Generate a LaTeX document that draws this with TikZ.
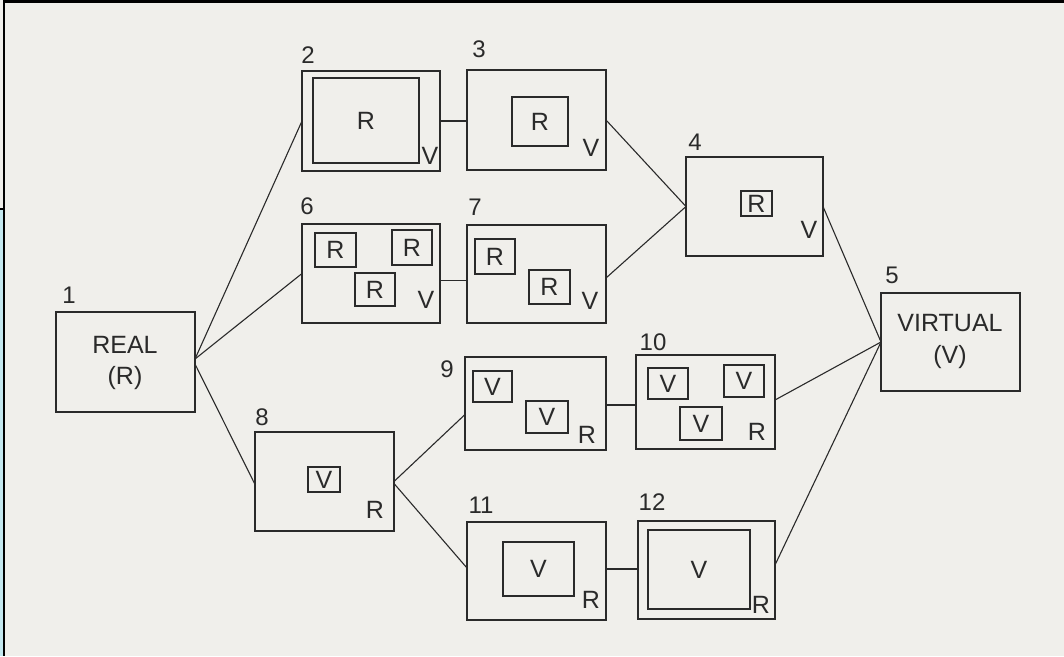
\documentclass[tikz,border=0pt]{standalone}
\usepackage{fontspec}
\setmainfont{Liberation Sans}
\definecolor{paper}{HTML}{F0EFEB}
\definecolor{ink}{HTML}{2A2A2A}
\definecolor{sideblue}{HTML}{C4E8EF}
\newcommand\pbox[6]{\node[#6, minimum width={#4-#2}, minimum height={#5-#3}] (#1) at ({(#2+#4)/2},{(#3+#5)/2}) {};}
\newcommand\ibox[7]{\node[#6, minimum width={#4-#2}, minimum height={#5-#3}] (#1) at ({(#2+#4)/2},{(#3+#5)/2}) {#7};}
\begin{document}
\begin{tikzpicture}[x=1pt,y=-1pt,
  frame/.style={draw=ink, line width=1.3pt, inner sep=0pt, outer sep=0pt},
  inner/.style={draw=ink, line width=1.1pt, inner sep=0pt, outer sep=0pt, font=\fontsize{25}{28}\selectfont, text=ink},
  txt/.style={inner sep=0pt, font=\fontsize{25}{28}\selectfont, text=ink},
  num/.style={inner sep=0pt, font=\fontsize{24}{27}\selectfont, text=ink},
  link/.style={draw=ink, line width=1.1pt}]
\useasboundingbox (0,0) rectangle (1064,656);
\fill[paper] (0,0) rectangle (1064,656);
\fill[sideblue] (0,209) rectangle (4,656);
\draw[black, line width=2pt] (0,209) -- (4,209);
\draw[black, line width=3pt] (4,1) -- (1064,1);
\draw[black, line width=2pt] (4,0) -- (4,656);

% box 1
\pbox{b1}{56}{312}{195}{412}{frame}
\node[num] (n1) at (69,295) {1};
\node[txt] (t1a) at (125,345) {REAL};
\node[txt] (t1b) at (125,378) {(R)};
% box 2
\pbox{b2}{302}{71}{440}{171}{frame}
\ibox{b2i}{313}{78}{419}{163}{inner}{R}
\node[txt] (c2) at (430,156) {V};
\node[num] (n2) at (308,55) {2};
% box 3
\pbox{b3}{467}{70}{606}{170}{frame}
\ibox{b3i}{512}{97}{568}{146}{inner}{R}
\node[txt] (c3) at (591,148) {V};
\node[num] (n3) at (479,49) {3};
% box 4
\pbox{b4}{686}{157}{823}{256}{frame}
\ibox{b4i}{741}{191}{772}{216}{inner}{R}
\node[txt] (c4) at (809,230) {V};
\node[num] (n4) at (695,142) {4};
% box 5
\pbox{b5}{881}{293}{1020}{391}{frame}
\node[txt] (t5a) at (950,323) {VIRTUAL};
\node[txt] (t5b) at (950,357) {(V)};
\node[num] (n5) at (892,275) {5};
% box 6
\pbox{b6}{302}{224}{440}{323}{frame}
\ibox{b6a}{315}{233}{356}{267}{inner}{R}
\ibox{b6b}{392}{230}{432}{265}{inner}{R}
\ibox{b6c}{355}{273}{395}{306}{inner}{R}
\node[txt] (c6) at (426,300) {V};
\node[num] (n6) at (307,206) {6};
% box 7
\pbox{b7}{467}{225}{606}{323}{frame}
\ibox{b7a}{475}{239}{515}{274}{inner}{R}
\ibox{b7b}{529}{270}{570}{304}{inner}{R}
\node[txt] (c7) at (590,301) {V};
\node[num] (n7) at (475,207) {7};
% box 8
\pbox{b8}{255}{432}{394}{531}{frame}
\ibox{b8i}{308}{467}{340}{492}{inner}{V}
\node[txt] (c8) at (375,510) {R};
\node[num] (n8) at (262,417) {8};
% box 9
\pbox{b9}{465}{357}{606}{450}{frame}
\ibox{b9a}{473}{371}{512}{402}{inner}{V}
\ibox{b9b}{526}{401}{568}{433}{inner}{V}
\node[txt] (c9) at (587,435) {R};
\node[num] (n9) at (447,369) {9};
% box 10
\pbox{b10}{636}{355}{775}{449}{frame}
\ibox{b10a}{648}{368}{688}{399}{inner}{V}
\ibox{b10b}{724}{365}{764}{397}{inner}{V}
\ibox{b10c}{680}{407}{722}{440}{inner}{V}
\node[txt] (c10) at (757,432) {R};
\node[num] (n10) at (653,342) {10};
% box 11
\pbox{b11}{467}{522}{606}{620}{frame}
\ibox{b11i}{503}{542}{574}{596}{inner}{V}
\node[txt] (c11) at (591,600) {R};
\node[num] (n11) at (481,505) {11};
% box 12
\pbox{b12}{638}{521}{775}{619}{frame}
\ibox{b12i}{648}{530}{750}{609}{inner}{V}
\node[txt] (c12) at (761,605) {R};
\node[num] (n12) at (652,502) {12};

% connectors
\draw[link] ([yshift=3pt]b1.east) -- (b2.west);
\draw[link] ([yshift=3pt]b1.east) -- (b6.west);
\draw[link] ([yshift=-2pt]b1.east) -- ([yshift=-3pt]b8.west);
\draw[link] (b2.east) -- (b2.east -| b3.west);
\draw[link] (b3.east) -- (b4.west);
\draw[link] ([yshift=-7pt]b6.east) -- ([yshift=-7pt]b6.east -| b7.west);
\draw[link] ([yshift=-4pt]b7.east) -- (b4.west);
\draw[link] (b4.east) -- (b5.west);
\draw[link] (b8.east) -- ([yshift=-11pt]b9.west);
\draw[link] ([yshift=-2pt]b8.east) -- ([yshift=3pt]b11.west);
\draw[link] ([yshift=-1.5pt]b9.east) -- ([yshift=-1.5pt]b9.east -| b10.west);
\draw[link] ([yshift=2pt]b10.east) -- (b5.west);
\draw[link] ([yshift=2pt]b11.east) -- ([yshift=2pt]b11.east -| b12.west);
\draw[link] ([yshift=5pt]b12.east) -- (b5.west);
\end{tikzpicture}
\end{document}
